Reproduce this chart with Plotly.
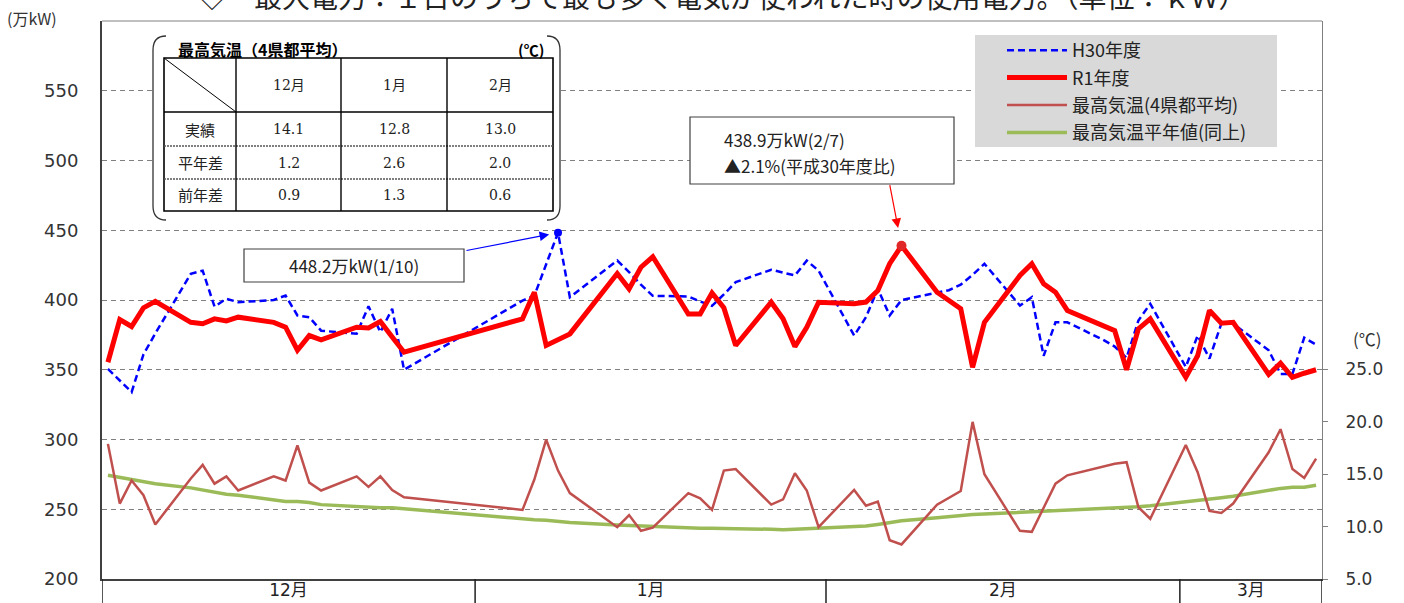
import pandas as pd
import plotly.graph_objects as go

# ---------------- data ----------------
r1_dates = [
    "2019-12-02", "2019-12-03", "2019-12-04", "2019-12-05", "2019-12-06",
    "2019-12-09", "2019-12-10", "2019-12-11", "2019-12-12", "2019-12-13",
    "2019-12-16", "2019-12-17", "2019-12-18", "2019-12-19", "2019-12-20",
    "2019-12-23", "2019-12-24", "2019-12-25", "2019-12-26", "2019-12-27",
    "2020-01-06", "2020-01-07", "2020-01-08", "2020-01-09", "2020-01-10",
    "2020-01-14", "2020-01-15", "2020-01-16", "2020-01-17",
    "2020-01-20", "2020-01-21", "2020-01-22", "2020-01-23", "2020-01-24",
    "2020-01-27", "2020-01-28", "2020-01-29", "2020-01-30", "2020-01-31",
    "2020-02-03", "2020-02-04", "2020-02-05", "2020-02-06", "2020-02-07",
    "2020-02-10", "2020-02-12", "2020-02-13", "2020-02-14",
    "2020-02-17", "2020-02-18", "2020-02-19", "2020-02-20", "2020-02-21",
    "2020-02-25", "2020-02-26", "2020-02-27", "2020-02-28",
    "2020-03-02", "2020-03-03", "2020-03-04", "2020-03-05", "2020-03-06",
    "2020-03-09", "2020-03-10", "2020-03-11", "2020-03-12", "2020-03-13",
]
r1_demand = [
    355.4, 386.0, 381.0, 394.4, 399.0,
    384.0, 383.0, 386.5, 385.0, 387.7,
    384.0, 380.5, 364.0, 374.5, 371.5,
    380.5, 380.0, 384.6, 373.5, 362.6,
    386.5, 405.5, 367.4, 371.5, 375.7,
    419.0, 408.0, 423.5, 431.0,
    390.0, 390.0, 405.0, 394.4, 367.4,
    398.4, 386.5, 366.6, 380.5, 398.4,
    397.3, 398.5, 406.8, 426.0, 438.9,
    405.6, 393.7, 351.8, 384.0,
    417.6, 426.0, 411.6, 405.6, 392.5,
    378.0, 350.0, 379.3, 386.5,
    344.6, 360.0, 392.5, 383.4, 384.0,
    346.6, 354.7, 344.6, 347.5, 350.0,
]
temp_max = [
    17.9, 12.2, 14.4, 13.0, 10.2,
    14.6, 15.9, 14.1, 14.8, 13.45,
    14.8, 14.4, 17.75, 14.2, 13.45,
    14.8, 13.8, 14.8, 13.5, 12.8,
    11.6, 14.5, 18.3, 15.35, 13.2,
    9.95, 11.1, 9.6, 9.9,
    13.2, 12.7, 11.6, 15.35, 15.5,
    12.1, 12.6, 15.1, 13.45, 9.95,
    13.5, 12.0, 12.4, 8.7, 8.3,
    12.1, 13.4, 20.0, 15.0,
    9.6, 9.5, 11.8, 14.1, 14.9,
    16.0, 16.15, 11.85, 10.75,
    17.8, 15.2, 11.5, 11.3, 12.2,
    17.1, 19.3, 15.5, 14.65, 16.5,
]
temp_normal = [
    14.9, 14.7, 14.5, 14.3, 14.1,
    13.7, 13.5, 13.3, 13.1, 13.0,
    12.5, 12.4, 12.4, 12.3, 12.1,
    11.9, 11.8, 11.8, 11.8, 11.7,
    10.75, 10.65, 10.6, 10.5, 10.4,
    10.15, 10.1, 10.05, 10.0,
    9.9, 9.85, 9.85, 9.8, 9.8,
    9.75, 9.7, 9.75, 9.8, 9.85,
    9.95, 10.05, 10.2, 10.4, 10.55,
    10.85, 11.1, 11.15, 11.2,
    11.35, 11.4, 11.45, 11.5, 11.55,
    11.75, 11.8, 11.9, 12.0,
    12.35, 12.45, 12.55, 12.75, 12.9,
    13.5, 13.65, 13.75, 13.75, 13.95,
]
h30_dates = [
    "2018-12-03", "2018-12-04", "2018-12-05", "2018-12-06", "2018-12-07",
    "2018-12-10", "2018-12-11", "2018-12-12", "2018-12-13", "2018-12-14",
    "2018-12-17", "2018-12-18", "2018-12-19", "2018-12-20", "2018-12-21",
    "2018-12-24", "2018-12-25", "2018-12-26", "2018-12-27", "2018-12-28",
    "2019-01-07", "2019-01-08", "2019-01-09", "2019-01-10", "2019-01-11",
    "2019-01-15", "2019-01-16", "2019-01-17", "2019-01-18",
    "2019-01-21", "2019-01-22", "2019-01-23", "2019-01-24", "2019-01-25",
    "2019-01-28", "2019-01-29", "2019-01-30", "2019-01-31", "2019-02-01",
    "2019-02-04", "2019-02-05", "2019-02-06", "2019-02-07", "2019-02-08",
    "2019-02-12", "2019-02-13", "2019-02-14", "2019-02-15",
    "2019-02-18", "2019-02-19", "2019-02-20", "2019-02-21", "2019-02-22",
    "2019-02-25", "2019-02-26", "2019-02-27", "2019-02-28", "2019-03-01",
    "2019-03-04", "2019-03-05", "2019-03-06", "2019-03-07", "2019-03-08",
    "2019-03-11", "2019-03-12", "2019-03-13", "2019-03-14", "2019-03-15",
]
h30_demand = [
    350.6, 342.0, 334.0, 361.0, 376.0,
    418.8, 421.0, 395.3, 400.9, 398.4,
    400.0, 403.2, 388.9, 387.7, 378.0,
    375.8, 395.5, 377.0, 393.7, 350.0,
    399.6, 403.0, 426.0, 448.2, 402.0,
    428.3, 420.0, 411.0, 403.0,
    402.5, 399.0, 395.8, 404.0, 412.8,
    421.7, 419.5, 417.6, 428.2, 421.0,
    374.5, 387.7, 408.0, 388.9, 400.0,
    407.0, 411.0, 418.0, 426.0,
    396.0, 402.0, 360.0, 384.0, 384.0,
    371.6, 366.6, 358.5, 385.3, 397.3,
    352.0, 374.5, 358.0, 383.0, 383.0,
    364.0, 347.0, 347.0, 373.0, 368.0,
]
# previous-year days are aligned to the same weekday of this year
h30_shift_days = 364

month_labels = ["12月", "1月", "2月", "3月"]
month_bounds = ["2019-12-01 12:00", "2020-01-02 00:00", "2020-01-31 15:00",
                "2020-03-01 12:00", "2020-03-13 12:00"]

left_ticks = [200, 250, 300, 350, 400, 450, 500, 550]
right_ticks = [5, 10, 15, 20, 25]

table_months = ["12月", "1月", "2月"]
table_rows = ["実績", "平年差", "前年差"]
table_actual = [14.1, 12.8, 13.0]
table_diff_normal = [1.2, 2.6, 2.0]
table_diff_prev = [0.9, 1.3, 0.6]

title_text = "◇　最大電力：１日のうちで最も多く電気が使われた時の使用電力。（単位：ｋＷ）"

# ---------------- geometry helpers ----------------
L, R, T, B = 102, 1322, 21, 579
W, H = R - L, B - T


def fx(p):
    return (p - L) / W


def fy(p):
    return (B - p) / H


JP = "Noto Sans CJK JP"
TICKF = "DejaVu Sans, Noto Sans CJK JP"
SERIF = "DejaVu Serif, Noto Sans CJK JP"

r1_x = pd.to_datetime(r1_dates)
h30_x = pd.to_datetime(h30_dates) + pd.Timedelta(days=h30_shift_days)
bounds = pd.to_datetime(month_bounds)
mids = [bounds[i] + (bounds[i + 1] - bounds[i]) / 2 for i in range(len(month_labels))]

fig = go.Figure()
fig.add_trace(go.Scatter(x=r1_x, y=temp_normal, yaxis="y2", mode="lines",
                         name="最高気温平年値(同上)", legendrank=4, legendgroup="g4",
                         line=dict(color="#9bbb59", width=3.5)))
fig.add_trace(go.Scatter(x=r1_x, y=temp_max, yaxis="y2", mode="lines",
                         name="最高気温(4県都平均)", legendrank=3, legendgroup="g3",
                         line=dict(color="#c0504d", width=2.5)))
fig.add_trace(go.Scatter(x=h30_x, y=h30_demand, mode="lines", name="H30年度",
                         legendrank=1, legendgroup="g1",
                         line=dict(color="#0000ff", width=2.5, dash="7px,4px")))
fig.add_trace(go.Scatter(x=r1_x, y=r1_demand, mode="lines", name="R1年度",
                         legendrank=2, legendgroup="g2",
                         line=dict(color="#ff0000", width=5)))

# peaks
ih = max(range(len(h30_demand)), key=lambda i: h30_demand[i])
ir = max(range(len(r1_demand)), key=lambda i: r1_demand[i])
h_peak_x, h_peak_y = h30_x[ih], h30_demand[ih]
r_peak_x, r_peak_y = r1_x[ir], r1_demand[ir]
h_peak_date = pd.to_datetime(h30_dates[ih])
fig.add_trace(go.Scatter(x=[h_peak_x], y=[h_peak_y], mode="markers", showlegend=False,
                         marker=dict(color="#0000ff", size=8)))
fig.add_trace(go.Scatter(x=[r_peak_x], y=[r_peak_y], mode="markers", showlegend=False,
                         marker=dict(color="#e02828", size=10)))

shapes = []
annos = []


def rect(x0, y0, x1, y1, fill="white", lc="black", lw=1.2, layer="above"):
    shapes.append(dict(type="rect", xref="paper", yref="paper",
                       x0=fx(x0), x1=fx(x1), y0=fy(y1), y1=fy(y0),
                       fillcolor=fill, line=dict(color=lc, width=lw), layer=layer))


def line(x0, y0, x1, y1, color="black", width=1.2, dash="solid"):
    shapes.append(dict(type="line", xref="paper", yref="paper",
                       x0=fx(x0), x1=fx(x1), y0=fy(y0), y1=fy(y1),
                       line=dict(color=color, width=width, dash=dash), layer="above"))


def text(x, y, s, size=15, family=JP, color="#222", xanchor="center", yanchor="middle"):
    annos.append(dict(xref="paper", yref="paper", x=fx(x), y=fy(y), text=s,
                      showarrow=False, xanchor=xanchor, yanchor=yanchor,
                      font=dict(size=size, family=family, color=color)))


# top border of the plot
line(L, T, R, T, color="#808080", width=1)

# month dividers below the axis
for b in bounds:
    shapes.append(dict(type="line", xref="x", yref="paper", x0=b, x1=b, y0=0, y1=fy(606),
                       line=dict(color="#202020", width=1.5)))

# legend background
rect(975, 35, 1277, 147, fill="#d9d9d9", lw=0)

# ---- inset table ----
rect(153, 34, 560, 222, fill="white", lw=0)
bl = f"M{fx(166)},{fy(36)} Q{fx(153)},{fy(36)} {fx(153)},{fy(50)} L{fx(153)},{fy(206)} Q{fx(153)},{fy(220)} {fx(166)},{fy(220)}"
br = f"M{fx(547)},{fy(36)} Q{fx(560)},{fy(36)} {fx(560)},{fy(50)} L{fx(560)},{fy(206)} Q{fx(560)},{fy(220)} {fx(547)},{fy(220)}"
for p in (bl, br):
    shapes.append(dict(type="path", xref="paper", yref="paper", path=p,
                       line=dict(color="#333", width=1.3), layer="above"))
text(176, 49, "<b>最高気温（4県都平均）</b>", size=16, xanchor="left", color="#000")
text(546, 49, "<b>(℃)</b>", size=15, xanchor="right", color="#000")
rect(164, 58, 553, 211, fill="white", lc="black", lw=1.6)
line(164, 112, 553, 112, width=1.6)
line(164, 146, 553, 146, color="#555", width=1.6, dash="2px,1px")
line(164, 179, 553, 179, color="#555", width=1.6, dash="2px,1px")
for cx in (236, 341, 447):
    line(cx, 58, cx, 211, width=1.4)
line(164, 58, 236, 112, width=1)
col_c = [288.5, 394, 500]
row_c = [129, 162.5, 195]
for c, m in zip(col_c, table_months):
    text(c, 85, m, size=14, family=SERIF, color="#222")
for r, lab in zip(row_c, table_rows):
    text(200, r, lab, size=15, color="#222")
for r, vals in zip(row_c, [table_actual, table_diff_normal, table_diff_prev]):
    for c, v in zip(col_c, vals):
        text(c, r, f"{v:.1f}", size=14, family=SERIF, color="#222")

# ---- callout boxes ----
rect(244, 249, 464, 282, fill="white", lc="#404040", lw=1.2)
text(354, 265.5, f"{h_peak_y:.1f}万kW({h_peak_date.month}/{h_peak_date.day})", size=17, color="#222")
annos.append(dict(xref="x", yref="y", x=h_peak_x, y=h_peak_y, text="", showarrow=True,
                  axref="pixel", ayref="pixel", ax=-93, ay=18, standoff=9,
                  arrowhead=2, arrowsize=1.6, arrowwidth=1.2, arrowcolor="#0000ff"))

pct = (r_peak_y / h_peak_y - 1) * 100
sign = "▲" if pct < 0 else "△"
rect(690, 117, 954, 184, fill="white", lc="#404040", lw=1.2)
text(722, 139, f"{r_peak_y:.1f}万kW({r_peak_x.month}/{r_peak_x.day})", size=17, xanchor="left", color="#222")
text(722, 165, f"{sign}{abs(pct):.1f}%(平成30年度比)", size=17, xanchor="left", color="#222")
annos.append(dict(xref="x", yref="y", x=r_peak_x, y=r_peak_y, text="", showarrow=True,
                  axref="pixel", ayref="pixel", ax=-12, ay=-62, standoff=18,
                  arrowhead=2, arrowsize=1.6, arrowwidth=1.2, arrowcolor="#ff0000"))

# axis titles / page title
text(5, 18, "(万kW)", size=16, xanchor="left", color="#333")
text(1367, 338, "(℃)", size=17, color="#333")
text(196, -4, title_text, size=28, xanchor="left", color="#222")

fig.update_layout(
    width=1404, height=603,
    margin=dict(l=L, r=1404 - R, t=T, b=603 - B, autoexpand=False),
    paper_bgcolor="white", plot_bgcolor="white",
    showlegend=True,
    legend=dict(x=fx(1002), y=fy(32), xanchor="left", yanchor="top",
                bgcolor="rgba(0,0,0,0)", borderwidth=0, tracegroupgap=1,
                itemwidth=60, font=dict(family=JP, size=18, color="#222")),
    xaxis=dict(type="date", range=[bounds[0], bounds[-1]], tickvals=mids,
               ticktext=month_labels, ticks="", showgrid=False, zeroline=False,
               showline=True, linecolor="#404040", linewidth=1.5,
               ticklabelstandoff=-5,
               tickfont=dict(family=TICKF, size=17, color="#222")),
    yaxis=dict(range=[200, 600], tickvals=left_ticks, showgrid=True,
               gridcolor="#808080", griddash="5px,4px", gridwidth=1,
               zeroline=False, showline=True, linecolor="#404040", linewidth=2,
               ticks="", ticklabelstandoff=18,
               tickfont=dict(family=TICKF, size=18, color="#333")),
    yaxis2=dict(overlaying="y", side="right", range=[5, 5 + H / 10.475],
                tickvals=right_ticks, tickformat=".1f", showgrid=False,
                zeroline=False, showline=True, linecolor="#808080", linewidth=1,
                ticks="outside", ticklen=5, tickcolor="#808080",
                ticklabelstandoff=14,
                tickfont=dict(family=TICKF, size=17, color="#333")),
    shapes=shapes, annotations=annos,
)

fig.write_html("out.html", config={"displayModeBar": False},
               post_script="document.body.style.margin='0';document.body.style.overflow='hidden';")
